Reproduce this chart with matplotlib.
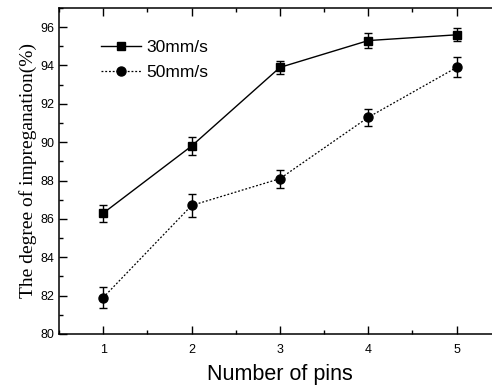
import matplotlib
matplotlib.use('Agg')
import matplotlib.pyplot as plt
from matplotlib.ticker import MultipleLocator
from matplotlib.lines import Line2D

# 数据
pins = [1, 2, 3, 4, 5]
v30 = [86.3, 89.8, 93.9, 95.3, 95.6]
e30 = [0.45, 0.48, 0.35, 0.38, 0.33]
v50 = [81.9, 86.7, 88.1, 91.3, 93.9]
e50 = [0.57, 0.62, 0.47, 0.45, 0.52]

plt.rcParams['font.family'] = ['Liberation Sans', 'DejaVu Sans']

fig = plt.figure(figsize=(4.92, 3.9), dpi=100)
ax = fig.add_axes([0.12, 0.1436, 0.898, 0.836])

dot = (0, (1.5, 1.5))
ax.errorbar(pins, v30, yerr=e30, color='black', marker='s', markersize=5.5,
            linestyle='-', linewidth=1.0, capsize=3, elinewidth=1.0, capthick=1.0)
ax.errorbar(pins, v50, yerr=e50, color='black', marker='o', markersize=6.5,
            linestyle=dot, linewidth=0.9, capsize=3, elinewidth=1.0, capthick=1.0)

ax.set_xlim(0.5, 5.5)
ax.set_ylim(80, 97)
ax.xaxis.set_major_locator(MultipleLocator(1))
ax.xaxis.set_minor_locator(MultipleLocator(0.5))
ax.yaxis.set_major_locator(MultipleLocator(2))
ax.yaxis.set_minor_locator(MultipleLocator(1))
ax.tick_params(which='both', direction='in', top=True, right=False, labelsize=9, width=1)
ax.tick_params(which='major', length=6)
ax.tick_params(which='minor', length=3)
ax.tick_params(axis='x', pad=7)
for s in ax.spines.values():
    s.set_linewidth(1.1)

ax.set_xlabel('Number of pins', fontsize=15.5, labelpad=6)
ax.set_ylabel('The degree of impreganation(%)', fontsize=14,
              family=['Liberation Serif'], labelpad=2)

handles = [
    Line2D([], [], color='black', marker='s', markersize=5.5, linestyle='-', linewidth=1.0),
    Line2D([], [], color='black', marker='o', markersize=6.5, linestyle=dot, linewidth=0.9),
]
ax.legend(handles, ['30mm/s', '50mm/s'], loc='upper left', bbox_to_anchor=(0.06, 0.95),
          frameon=False, fontsize=12.5, handlelength=2.3, handletextpad=0.3,
          labelspacing=0.55)

fig.savefig('out.png', dpi=100)
